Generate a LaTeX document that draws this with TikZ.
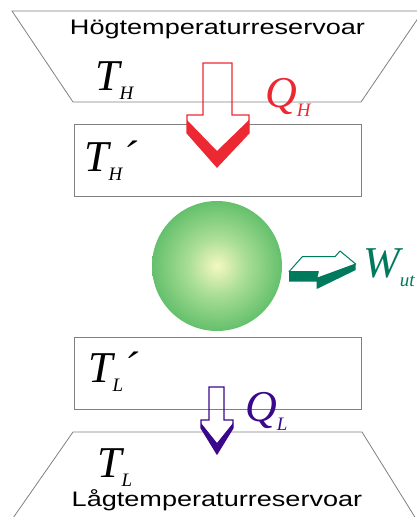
\documentclass[tikz,border=0pt]{standalone}
\usepackage{fontspec}
\setmainfont{Liberation Serif}
\setsansfont{Liberation Sans}
\usetikzlibrary{calc}

\definecolor{qhred}{RGB}{236,40,50}
\definecolor{qlpurple}{RGB}{58,8,140}
\definecolor{wgreen}{RGB}{0,122,92}
\definecolor{wallgray}{RGB}{128,128,128}
\definecolor{sphc}{RGB}{244,248,192}
\definecolor{sphm}{RGB}{170,222,150}
\definecolor{sphe}{RGB}{100,192,108}
\pgfdeclareradialshading{sphere}{\pgfpoint{0bp}{0bp}}{color(0bp)=(sphc); color(11bp)=(sphm); color(25bp)=(sphe); color(50bp)=(sphe)}

\newcommand{\subix}[1]{\raisebox{-9pt}{\fontsize{19}{19}\selectfont #1}}
\newcommand{\tankname}[1]{\scalebox{1.29}[1]{#1}}

\tikzset{
    wall/.style={draw=wallgray, line width=0.8pt},
    bigit/.style={font=\fontsize{44}{44}\selectfont\itshape, inner sep=0pt, anchor=base west},
    tank/.style={font=\sffamily\fontsize{21}{21}\selectfont, inner sep=0pt, anchor=base}
}

\begin{document}
\begin{tikzpicture}[x=1pt, y=-1pt]
        \useasboundingbox (0,0) rectangle (416,517);

        % Reservoarer och mellanlager
        \draw[wall] (12,11) -- (423,11) -- (361,102) -- (73,102) -- cycle;
        \draw[wall] (-10,551) -- (73,432) -- (362,432) -- (436,551);
        \draw[wall] (74,124) rectangle (361,196);
        \draw[wall] (74,337) rectangle (361,409);

        \node[tank] (hot) at (217.5,34) {\tankname{Högtemperaturreservoar}};
        \node[tank] (cold) at (217,506) {\tankname{Lågtemperaturreservoar}};

        % Maskinen
        \coordinate (M) at (217,266);
        \shade[shading=sphere] (M) circle (65);

        % Q_H
        \fill[white] (187,115) -- (249,115) -- (249,133) -- (217,167) -- (187,133) -- cycle;
        \draw[qhred, line width=1.2pt, line join=miter] (203,63) -- (232,63) -- (232,115) -- (249,115) -- (249,133)
            -- (217,167) -- (187,133) -- (187,115) -- (203,115) -- cycle;
        \fill[qhred] (187,120) -- (217,151) -- (249,120) -- (249,133) -- (217,167) -- (187,133) -- cycle;

        % Q_L
        \fill[white] (201,420) -- (233,420) -- (233,428) -- (217,454) -- (201,428) -- cycle;
        \draw[qlpurple, line width=1.2pt, line join=miter] (209,387) -- (224,387) -- (224,420) -- (233,420) -- (233,428)
            -- (217,454) -- (201,428) -- (201,420) -- (209,420) -- cycle;
        \fill[qlpurple] (201,423) -- (217,443) -- (233,423) -- (233,428) -- (217,454) -- (201,428) -- cycle;

        % W_ut
        \draw[wgreen, line width=1pt, fill=white, line join=round] (289,271.7) -- (302.3,256.7) -- (335,256.7) -- (340,251)
            -- (355.7,264) -- (316.7,278.3) -- (318.3,271.7) -- cycle;
        \fill[wgreen] (289,271.7) -- (289,281.7) -- (316.7,281.7) -- (316.7,289) -- (355.7,270) -- (355.7,264)
            -- (316.7,278.3) -- (318.3,271.7) -- cycle;

        \node[bigit] (TH) at (95,90) {T\subix{H}};
        \node[bigit] (THp) at (84,171) {T\subix{H}´};
        \node[bigit] (TLp) at (88,382) {T\subix{L}´};
        \node[bigit] (TL) at (97,477) {T\subix{L}};
        \node[bigit, text=qhred] (QH) at (265,107) {Q\subix{H}};
        \node[bigit, text=qlpurple] (QL) at (245,421) {Q\subix{L}};
        \node[bigit, text=wgreen] (W) at (363,277) {W\subix{ut}};
    \end{tikzpicture}
\end{document}
